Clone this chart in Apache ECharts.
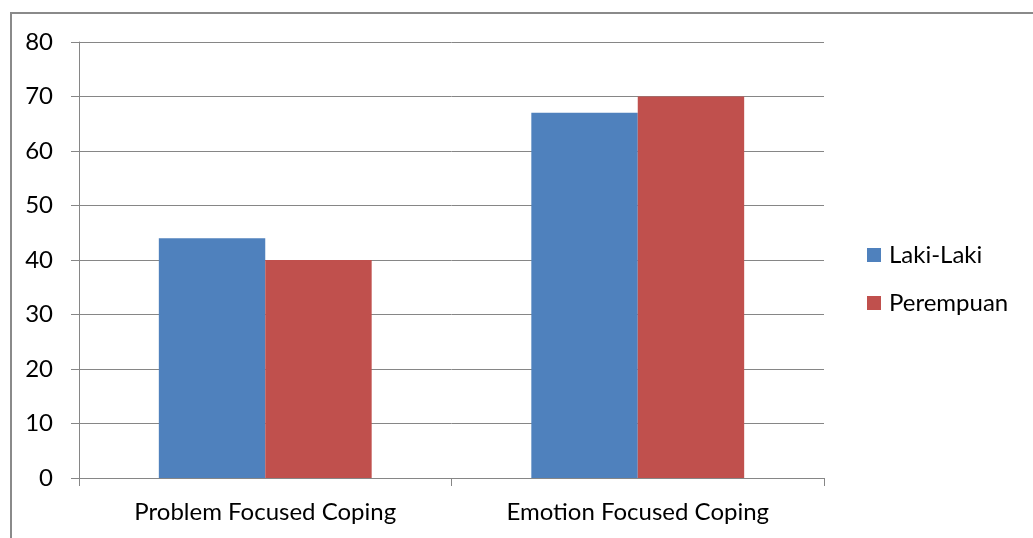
<!DOCTYPE html>
<html>
<head>
<meta charset="utf-8">
<script src="https://cdn.jsdelivr.net/npm/echarts@6/dist/echarts.min.js"></script>
<style>
  html, body { margin: 0; padding: 0; background: #fff; }
  #frame {
    position: absolute; left: 10px; top: 12px; right: 0; bottom: 0;
    border-left: 2px solid #8a8a8a; border-top: 2px solid #8a8a8a;
  }
  #chart { position: absolute; left: 0; top: 0; width: 1033px; height: 538px; }
</style>
</head>
<body>
<div id="frame"></div>
<div id="chart"></div>
<script>
const categories = ['Problem Focused Coping', 'Emotion Focused Coping'];
const seriesNames = ['Laki-Laki', 'Perempuan'];
const lakiLaki = [44, 67];
const perempuan = [40, 70];
const colors = ['#4F81BD', '#C0504D'];

const FONT = 'Lato';
const chart = echarts.init(document.getElementById('chart'), null, { renderer: 'canvas' });

chart.setOption({
  animation: false,
  backgroundColor: 'transparent',
  grid: { left: 79, right: 209, top: 42, bottom: 60 },
  legend: {
    orient: 'vertical',
    left: 867,
    top: 243,
    padding: 0,
    itemWidth: 14,
    itemHeight: 14,
    itemGap: 24,
    icon: 'rect',
    textStyle: { fontFamily: FONT, fontSize: 24, color: '#000', lineHeight: 24, padding: [0, 0, 0, 3] },
    data: seriesNames
  },
  xAxis: {
    type: 'category',
    data: categories,
    axisLine: { lineStyle: { color: '#868686', width: 1 } },
    axisTick: { show: true, length: 8, lineStyle: { color: '#868686' } },
    axisLabel: { fontFamily: FONT, fontSize: 24, color: '#000', margin: 22 }
  },
  yAxis: {
    type: 'value',
    min: 0,
    max: 80,
    interval: 10,
    axisLine: { show: true, lineStyle: { color: '#868686', width: 1 } },
    axisTick: { show: true, length: 8, lineStyle: { color: '#868686' } },
    splitLine: { lineStyle: { color: '#868686', width: 1 } },
    axisLabel: { fontFamily: FONT, fontSize: 24, color: '#000', margin: 26 }
  },
  series: [
    { name: seriesNames[0], type: 'bar', data: lakiLaki, barWidth: '28.57%', barGap: '0%', itemStyle: { color: colors[0] } },
    { name: seriesNames[1], type: 'bar', data: perempuan, barWidth: '28.57%', barGap: '0%', itemStyle: { color: colors[1] } }
  ]
});
</script>
</body>
</html>
